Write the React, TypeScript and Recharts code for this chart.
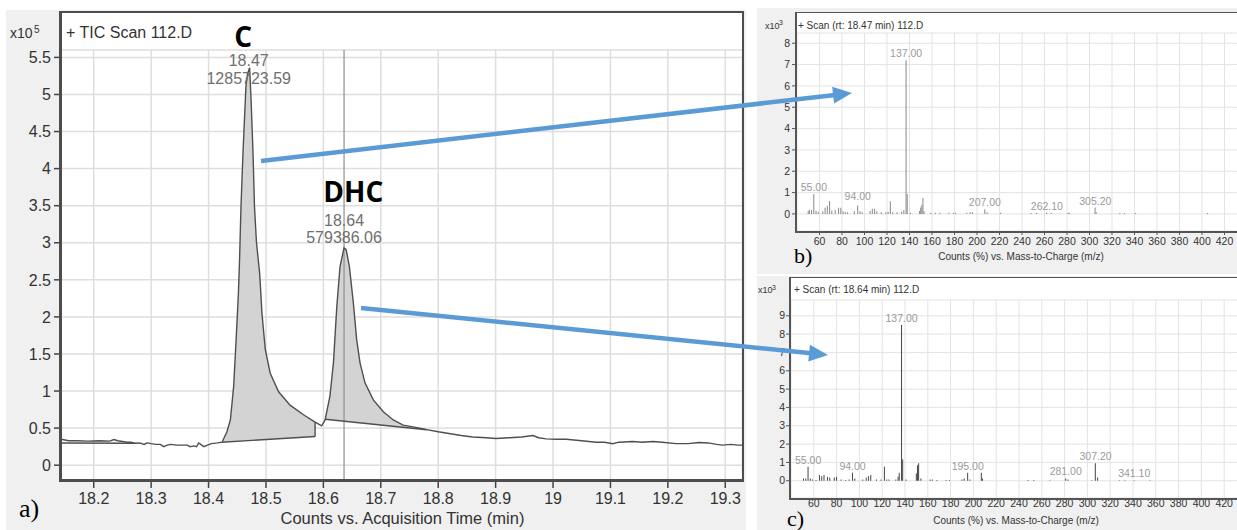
import React from 'react';
import {
  ComposedChart,
  Line,
  Area,
  Bar,
  XAxis,
  YAxis,
  CartesianGrid,
  ReferenceLine,
  ReferenceDot,
} from 'recharts';

// ---------------- Panel a: TIC chromatogram ----------------
const ticTime = [
  18.143, 18.150, 18.156, 18.170, 18.190, 18.210, 18.228, 18.235, 18.242, 18.250,
  18.258, 18.265, 18.272, 18.280, 18.288, 18.293, 18.300, 18.308, 18.316, 18.322,
  18.328, 18.334, 18.345, 18.355, 18.363, 18.368, 18.374, 18.379, 18.383, 18.388,
  18.392, 18.398, 18.405, 18.415, 18.4235, 18.432, 18.438, 18.4437, 18.448, 18.452,
  18.454, 18.4565, 18.460, 18.4628, 18.4652, 18.468, 18.4715, 18.474, 18.4774, 18.480,
  18.4835, 18.489, 18.493, 18.4988, 18.5074, 18.522, 18.542, 18.5653, 18.5856, 18.597,
  18.603, 18.6114, 18.6175, 18.6234, 18.629, 18.636, 18.6395, 18.6453, 18.6522, 18.658,
  18.6638, 18.6725, 18.687, 18.7044, 18.7217, 18.739, 18.768, 18.78, 18.80, 18.84,
  18.86, 18.884, 18.90, 18.924, 18.945, 18.965, 18.975, 18.988, 19.005, 19.023,
  19.05, 19.075, 19.09, 19.104, 19.115, 19.139, 19.155, 19.174, 19.19, 19.214,
  19.235, 19.254, 19.27, 19.285, 19.295, 19.31, 19.321, 19.33,
];
const ticValue = [
  0.35, 0.34, 0.33, 0.33, 0.325, 0.33, 0.325, 0.345, 0.33, 0.32,
  0.31, 0.31, 0.295, 0.30, 0.28, 0.30, 0.29, 0.28, 0.28, 0.25,
  0.27, 0.28, 0.27, 0.27, 0.27, 0.25, 0.26, 0.25, 0.30, 0.27,
  0.25, 0.27, 0.29, 0.30, 0.31, 0.45, 0.61, 1.06, 1.69, 2.32,
  2.77, 3.49, 4.22, 4.71, 5.12, 5.28, 5.36, 4.94, 4.22, 3.49,
  3.0, 2.59, 2.05, 1.56, 1.24, 0.99, 0.81, 0.68, 0.58, 0.53,
  0.61, 0.93, 1.38, 2.14, 2.68, 2.93, 2.91, 2.68, 2.19, 1.69,
  1.38, 1.11, 0.88, 0.72, 0.61, 0.54, 0.50, 0.48, 0.45, 0.40,
  0.38, 0.37, 0.36, 0.37, 0.38, 0.40, 0.37, 0.355, 0.35, 0.35,
  0.33, 0.31, 0.31, 0.29, 0.31, 0.32, 0.31, 0.32, 0.31, 0.29,
  0.29, 0.305, 0.30, 0.28, 0.27, 0.28, 0.27, 0.27,
];

// integration windows (time) and their straight baselines (value at start, end)
const peakCWindow = [18.4235, 18.5856];
const peakCBaseline = [0.31, 0.386];
const peakDWindow = [18.603, 18.78];
const peakDBaseline = [0.62, 0.478];
const leftWindow = [18.143, 18.272];
const leftBaseline = [0.30, 0.295];

const ticXTicks = [18.2, 18.3, 18.4, 18.5, 18.6, 18.7, 18.8, 18.9, 19, 19.1, 19.2, 19.3];
const ticYTicks = [0, 0.5, 1, 1.5, 2, 2.5, 3, 3.5, 4, 4.5, 5, 5.5];
const cursorTime = 18.636;

const peakNames = ['C', 'DHC'];
const peakApexTime = [18.47, 18.636];
const peakApexValue = [5.36, 2.93];
const peakRtText = ['18.47', '18.64'];
const peakAreaText = ['1285723.59', '579386.06'];

// ---------------- Panel b: spectrum at 18.47 min ----------------
const specBMz = [
  50, 51, 53, 55, 57, 59, 63, 65, 67, 69,
  71, 74, 77, 79, 81, 83, 85, 91, 94, 96,
  98, 105, 107, 109, 111, 115, 119, 121, 123, 125,
  129, 133, 135, 137, 138, 141, 149, 150, 151, 152,
  153, 159, 163, 167, 175, 179, 181, 191, 194, 196,
  207, 209, 221, 248, 253, 262, 266, 281, 282, 305,
  306, 327, 331, 341, 405,
];
const specBInt = [
  0.13, 0.2, 0.19, 0.94, 0.14, 0.1, 0.12, 0.29, 0.38, 0.61,
  0.16, 0.19, 0.29, 0.29, 0.13, 0.08, 0.08, 0.12, 0.4, 0.12,
  0.08, 0.14, 0.24, 0.24, 0.12, 0.08, 0.08, 0.1, 0.6, 0.08,
  0.08, 0.1, 0.19, 7.2, 0.94, 0.05, 0.14, 0.3, 0.42, 0.75,
  0.12, 0.05, 0.05, 0.05, 0.05, 0.05, 0.05, 0.06, 0.08, 0.08,
  0.22, 0.08, 0.05, 0.04, 0.04, 0.05, 0.05, 0.06, 0.05, 0.3,
  0.08, 0.04, 0.04, 0.04, 0.04,
];
const specBLabelMz = [55, 94, 137, 207, 262.1, 305.2];
const specBLabelInt = [0.94, 0.5, 7.2, 0.22, 0.05, 0.3];

// ---------------- Panel c: spectrum at 18.64 min ----------------
const specCMz = [
  51, 53, 55, 57, 59, 62, 65, 67, 69, 72,
  74, 78, 80, 84, 88, 91, 94, 96, 103, 106,
  108, 110, 115, 119, 122, 124, 126, 132, 134, 135,
  137, 138, 141, 150, 151, 152, 154, 162, 164, 168,
  176, 179, 190, 192, 195, 197, 207, 208, 248, 253,
  267, 281, 283, 304, 307, 309, 328, 333, 341, 355,
];
const specCInt = [
  0.13, 0.13, 0.76, 0.13, 0.07, 0.04, 0.31, 0.25, 0.31, 0.22,
  0.18, 0.18, 0.22, 0.07, 0.04, 0.07, 0.44, 0.13, 0.07, 0.18,
  0.25, 0.31, 0.07, 0.07, 0.76, 0.07, 0.07, 0.07, 0.22, 0.44,
  8.5, 1.16, 0.07, 0.4, 0.85, 0.95, 0.13, 0.07, 0.07, 0.04,
  0.04, 0.04, 0.07, 0.13, 0.44, 0.07, 0.44, 0.13, 0.04, 0.04,
  0.03, 0.13, 0.07, 0.03, 0.95, 0.18, 0.03, 0.03, 0.03, 0.03,
];
const specCLabelMz = [55, 94, 137, 195, 281, 307.2, 341.1];
const specCLabelInt = [0.76, 0.44, 8.5, 0.44, 0.13, 0.95, 0.05];

const mzTicks = [60, 80, 100, 120, 140, 160, 180, 200, 220, 240, 260, 280, 300, 320, 340, 360, 380, 400, 420];
const specBYTicks = [0, 1, 2, 3, 4, 5, 6, 7, 8];
const specCYTicks = [0, 1, 2, 3, 4, 5, 6, 7, 8, 9];

// ---------------- tables ----------------
const near = (a: number, b: number) => Math.abs(a - b) < 1e-9;
const inWin = (t: number, w: number[]) => t >= w[0] - 1e-9 && t <= w[1] + 1e-9;
const baseAt = (t: number, w: number[], b: number[]) => b[0] + ((b[1] - b[0]) * (t - w[0])) / (w[1] - w[0]);

const ticRows = ticTime.map((t, i) => {
  const v = ticValue[i];
  const row: any = { t, tic: v };
  if (inWin(t, peakCWindow)) row.cArea = [baseAt(t, peakCWindow, peakCBaseline), v];
  if (inWin(t, peakDWindow)) row.dArea = [baseAt(t, peakDWindow, peakDBaseline), v];
  if (near(t, peakCWindow[0])) row.cBase = peakCBaseline[0];
  if (near(t, peakCWindow[1])) row.cBase = peakCBaseline[1];
  if (near(t, peakDWindow[0])) row.dBase = peakDBaseline[0];
  if (near(t, peakDWindow[1])) row.dBase = peakDBaseline[1];
  if (near(t, leftWindow[0])) row.lBase = leftBaseline[0];
  if (near(t, leftWindow[1])) row.lBase = leftBaseline[1];
  return row;
});
const peakCEndValue = ticValue[ticTime.findIndex((t) => near(t, peakCWindow[1]))];

const specBRows = specBMz.map((mz, i) => ({ mz, v: specBInt[i] }));
const specCRows = specCMz.map((mz, i) => ({ mz, v: specCInt[i] }));

// ---------------- styling ----------------
const SANS = '"Liberation Sans", Arial, sans-serif';
const SERIF = '"Liberation Serif", "Times New Roman", serif';
const TRACE = '#4f4f4f';

const peakLabelOffsets = [
  { dxName: -5.5, dyName: -21, dyRt: -1.5, dyArea: 16.3 },
  { dxName: 9.3, dyName: -46.2, dyRt: -21.9, dyArea: -4.6 },
];

const PeakLabel = (props: any) => {
  const { viewBox, name, rt, area, off } = props;
  const x = viewBox.x + (viewBox.width || 0) / 2;
  const y = viewBox.y + (viewBox.height || 0) / 2;
  return (
    <g>
      <text x={x + off.dxName} y={y + off.dyName} textAnchor="middle" fontFamily='"Open Sans", sans-serif' fontWeight={700} fontSize={28} fill="#000">
        {name}
      </text>
      <text x={x} y={y + off.dyRt} textAnchor="middle" fontFamily={SANS} fontSize={16} fill="#6f6f6f">
        {rt}
      </text>
      <text x={x} y={y + off.dyArea} textAnchor="middle" fontFamily={SANS} fontSize={16} fill="#6f6f6f">
        {area}
      </text>
    </g>
  );
};

const Arrow = ({ x1, y1, x2, y2 }: { x1: number; y1: number; x2: number; y2: number }) => {
  const dx = x2 - x1;
  const dy = y2 - y1;
  const len = Math.hypot(dx, dy);
  const ux = dx / len;
  const uy = dy / len;
  const hl = 19;
  const hw = 8.5;
  const bx = x2 - ux * hl;
  const by = y2 - uy * hl;
  const pts = `${x2},${y2} ${bx - uy * hw},${by + ux * hw} ${bx + uy * hw},${by - ux * hw}`;
  return (
    <g>
      <line x1={x1} y1={y1} x2={bx + ux * 2} y2={by + uy * 2} stroke="#5b9bd5" strokeWidth={4.5} />
      <polygon points={pts} fill="#5b9bd5" />
    </g>
  );
};

const abs = (left: number, top: number, width: number, height: number, extra: any = {}) => ({
  position: 'absolute' as const,
  left,
  top,
  width,
  height,
  boxSizing: 'border-box' as const,
  ...extra,
});

const Spectrum = ({ rows, labelMz, labelInt, yTicks, domainY, yWidth, xHeight, top, xTickSize, xTickMargin, yTickMargin, fill }: any) => (
  <ComposedChart
    width={500}
    height={top.h}
    data={rows}
    margin={{ top: top.m, right: 10, bottom: 0, left: 0 }}
  >
    <CartesianGrid stroke="#e3e3e3" strokeWidth={1} />
    <XAxis
      type="number"
      dataKey="mz"
      domain={[40, 440]}
      ticks={mzTicks}
      allowDataOverflow
      height={xHeight}
      tickSize={xTickSize}
      tickMargin={xTickMargin}
      axisLine={false}
      tickLine={{ stroke: '#555' }}
      tick={{ fill: '#333', fontSize: 10.5, fontFamily: SANS }}
      interval={0}
    />
    <YAxis
      type="number"
      domain={domainY}
      ticks={yTicks}
      allowDataOverflow
      width={yWidth}
      tickSize={5}
      tickMargin={yTickMargin}
      axisLine={false}
      tickLine={{ stroke: '#555' }}
      tick={{ fill: '#333', fontSize: 10.5, fontFamily: SANS }}
      interval={0}
    />
    <Bar dataKey="v" fill={fill} barSize={1.5} isAnimationActive={false} />
    {labelMz.map((mz: number, i: number) => (
      <ReferenceDot
        key={mz}
        x={mz}
        y={labelInt[i]}
        r={0}
        fill="none"
        stroke="none"
        label={{ value: mz.toFixed(2), position: 'top', offset: 3, fontSize: 10.5, fill: '#9a9a9a', fontFamily: SANS }}
      />
    ))}
  </ComposedChart>
);

export default function App() {
  return (
    <div style={{ position: 'absolute', left: 0, top: 0, width: 1237, height: 530, overflow: 'hidden', background: '#fff', fontFamily: SANS }}>
      {/* gray panel backgrounds */}
      <div style={abs(6, 10, 740, 520, { background: '#f0f0f0' })} />
      <div style={abs(757, 8, 480, 266, { background: '#f0f0f0' })} />
      <div style={abs(757, 276, 480, 254, { background: '#f0f0f0' })} />
      {/* white plot frames */}
      <div style={abs(61, 12, 682, 468, { background: '#fff' })} />
      <div style={abs(796, 13, 460, 219, { background: '#fff' })} />
      <div style={abs(790, 278, 460, 221, { background: '#fff' })} />

      {/* panel a chart */}
      <div style={abs(0, 0, 760, 530)}>
        <ComposedChart width={760} height={530} data={ticRows} margin={{ top: 50, right: 17.5, bottom: 0, left: 0 }}>
          <CartesianGrid stroke="#dedede" strokeWidth={1.5} />
          <XAxis
            type="number"
            dataKey="t"
            domain={[18.143, 19.33]}
            ticks={ticXTicks}
            allowDataOverflow
            height={50}
            tickSize={8}
            tickMargin={5}
            axisLine={false}
            tickLine={{ stroke: '#444', strokeWidth: 1.5 }}
            tick={{ fill: '#333', fontSize: 16, fontFamily: SANS }}
            interval={0}
          />
          <YAxis
            type="number"
            domain={[-0.2, 5.6]}
            ticks={ticYTicks}
            allowDataOverflow
            width={61}
            tickSize={7}
            tickMargin={3}
            axisLine={false}
            tickLine={{ stroke: '#444', strokeWidth: 1.5 }}
            tick={{ fill: '#333', fontSize: 16, fontFamily: SANS }}
            interval={0}
          />
          <Area type="linear" dataKey="cArea" stroke="none" fill="#d3d3d3" fillOpacity={1} isAnimationActive={false} />
          <Area type="linear" dataKey="dArea" stroke="none" fill="#d3d3d3" fillOpacity={1} isAnimationActive={false} />
          <ReferenceLine x={cursorTime} stroke="#8f8f8f" strokeWidth={1.2} />
          <Line type="linear" dataKey="cBase" connectNulls stroke={TRACE} strokeWidth={1.4} dot={false} isAnimationActive={false} />
          <Line type="linear" dataKey="dBase" connectNulls stroke={TRACE} strokeWidth={1.4} dot={false} isAnimationActive={false} />
          <Line type="linear" dataKey="lBase" connectNulls stroke={TRACE} strokeWidth={1.4} dot={false} isAnimationActive={false} />
          <ReferenceLine
            segment={[
              { x: peakCWindow[1], y: peakCBaseline[1] },
              { x: peakCWindow[1], y: peakCEndValue },
            ]}
            stroke={TRACE}
            strokeWidth={1.4}
          />
          <Line type="linear" dataKey="tic" stroke={TRACE} strokeWidth={1.4} dot={false} isAnimationActive={false} />
          {peakNames.map((n, i) => (
            <ReferenceDot
              key={n}
              x={peakApexTime[i]}
              y={peakApexValue[i]}
              r={0}
              fill="none"
              stroke="none"
              ifOverflow="visible"
              label={<PeakLabel name={n} rt={peakRtText[i]} area={peakAreaText[i]} off={peakLabelOffsets[i]} />}
            />
          ))}
        </ComposedChart>
      </div>

      {/* panel b chart */}
      <div style={abs(757, 8, 500, 266)}>
        <Spectrum
          rows={specBRows}
          labelMz={specBLabelMz}
          labelInt={specBLabelInt}
          yTicks={specBYTicks}
          domainY={[-0.8, 8.48]}
          yWidth={40}
          xHeight={43}
          top={{ h: 266, m: 25 }}
          xTickSize={4}
          xTickMargin={3}
          yTickMargin={2}
          fill="#8a8a8a"
        />
      </div>

      {/* panel c chart */}
      <div style={abs(757, 276, 500, 254)}>
        <Spectrum
          rows={specCRows}
          labelMz={specCLabelMz}
          labelInt={specCLabelInt}
          yTicks={specCYTicks}
          domainY={[-0.94, 9.86]}
          yWidth={34}
          xHeight={32}
          top={{ h: 254, m: 24 }}
          xTickSize={2}
          xTickMargin={0}
          yTickMargin={1}
          fill="#4a4a4a"
        />
      </div>

      {/* frame borders */}
      <div style={abs(59, 11, 685, 471, { borderLeft: '3px solid #4d4d4d', borderBottom: '3px solid #4d4d4d', borderTop: '2px solid #4d4d4d', borderRight: '2px solid #4d4d4d' })} />
      <div style={abs(795, 12, 470, 221, { borderLeft: '2px solid #555', borderBottom: '2px solid #555', borderTop: '1px solid #555' })} />
      <div style={abs(789, 277, 470, 223, { borderLeft: '2px solid #555', borderBottom: '2px solid #555', borderTop: '1px solid #555' })} />

      {/* overlay texts and arrows */}
      <svg width={1237} height={530} style={{ position: 'absolute', left: 0, top: 0, pointerEvents: 'none' }}>
        {/* panel a */}
        <text x={10} y={38} fontSize={14} fill="#333" fontFamily={SANS}>x10</text>
        <text x={34} y={33} fontSize={10} fill="#333" fontFamily={SANS}>5</text>
        <text x={66} y={37.5} fontSize={16} fill="#333" fontFamily={SANS}>+ TIC Scan 112.D</text>
        <text x={402.5} y={524} fontSize={16.5} fill="#333" fontFamily={SANS} textAnchor="middle">Counts vs. Acquisition Time (min)</text>
        <text x={19} y={517} fontSize={26} fill="#000" fontFamily={SERIF}>a)</text>

        {/* panel b */}
        <text x={765} y={28.5} fontSize={9} fill="#333" fontFamily={SANS}>x10</text>
        <text x={779} y={25} fontSize={7} fill="#333" fontFamily={SANS}>3</text>
        <text x={798} y={28.5} fontSize={10} fill="#333" fontFamily={SANS}>+ Scan (rt: 18.47 min) 112.D</text>
        <text x={1021} y={260} fontSize={10} fill="#333" fontFamily={SANS} textAnchor="middle">Counts (%) vs. Mass-to-Charge (m/z)</text>
        <text x={794} y={263} fontSize={22} fill="#000" fontFamily={SERIF}>b)</text>

        {/* panel c */}
        <text x={758} y={293} fontSize={9} fill="#333" fontFamily={SANS}>x10</text>
        <text x={772} y={289.5} fontSize={7} fill="#333" fontFamily={SANS}>3</text>
        <text x={794} y={293} fontSize={10} fill="#333" fontFamily={SANS}>+ Scan (rt: 18.64 min) 112.D</text>
        <text x={1016} y={523.5} fontSize={10} fill="#333" fontFamily={SANS} textAnchor="middle">Counts (%) vs. Mass-to-Charge (m/z)</text>
        <text x={787} y={526} fontSize={22} fill="#000" fontFamily={SERIF}>c)</text>

        <Arrow x1={261} y1={161} x2={852} y2={93} />
        <Arrow x1={361} y1={308} x2={828} y2={355} />
      </svg>
    </div>
  );
}
